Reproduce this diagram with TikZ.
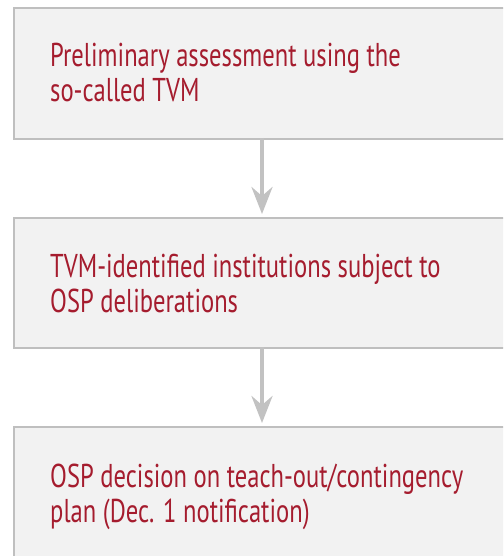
\documentclass[tikz,border=0pt]{standalone}
\usepackage{fontspec}
\setmainfont[FakeStretch=0.745]{PT Sans}
\usetikzlibrary{arrows.meta,positioning,calc}
\definecolor{boxfill}{HTML}{F2F2F2}
\definecolor{boxline}{HTML}{BFBFBF}
\definecolor{arrowgray}{HTML}{C2C2C2}
\definecolor{txtred}{HTML}{A51C2E}
\tikzset{
  stepbox/.style={draw=boxline, fill=boxfill, line width=2pt, rectangle,
    minimum width=527pt, inner sep=0pt, anchor=north west},
  lbl/.style={text=txtred, font=\fontsize{33}{35}\selectfont, align=left,
    anchor=base west, inner sep=0pt},
  flow/.style={draw=arrowgray, line width=4pt,
    -{Stealth[length=27pt,width=21pt,inset=9pt]}, shorten >=2pt}
}
\begin{document}
\begin{tikzpicture}[x=1pt,y=-1pt]
\useasboundingbox (0,0) rectangle (503,556);
\clip (0,0) rectangle (503,556);
\node[stepbox, minimum height=131pt] (b1) at (13,7) {};
\node[stepbox, minimum height=130pt] (b2) at (13,217) {};
\node[stepbox, minimum height=140pt] (b3) at (13,426) {};
\node[lbl] (t1) at (50,102) {Preliminary assessment using the\\so-called TVM};
\node[lbl] (t2) at (50,312) {TVM-identified institutions subject to\\OSP deliberations};
\node[lbl] (t3) at (50,522) {OSP decision on teach-out/contingency\\plan (Dec. 1 notification)};
\coordinate (a1s) at (262,138);
\coordinate (a1e) at (262,216);
\coordinate (a2s) at (262,347);
\coordinate (a2e) at (262,425);
\draw[flow] (a1s) -- (a1e);
\draw[flow] (a2s) -- (a2e);
\end{tikzpicture}
\end{document}
